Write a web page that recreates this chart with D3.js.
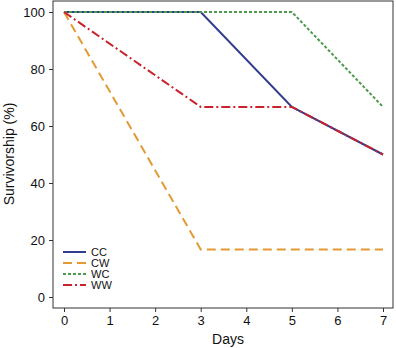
<!DOCTYPE html>
<html>
<head>
<meta charset="utf-8">
<script src="https://cdn.jsdelivr.net/npm/d3@7"></script>
<style>
  body { margin: 0; background: #fff; }
  svg text { font-family: "Liberation Sans", Arial, sans-serif; }
</style>
</head>
<body>
<script>
var days = [0, 3, 5, 7];
var seriesNames = ["CC", "CW", "WC", "WW"];
var ccValues = [100, 100, 66.7, 50];
var cwValues = [100, 16.7, 16.7, 16.7];
var wcValues = [100, 100, 100, 66.7];
var wwValues = [100, 66.7, 66.7, 50];
var xTicks = [0, 1, 2, 3, 4, 5, 6, 7];
var yTicks = [0, 20, 40, 60, 80, 100];

var colors = ["#323c8e", "#e39a35", "#4c9a4c", "#c8232c"];
var dashes = [null, "9,5", "3,2", "9,3,2,3"];

var box = {left: 53, top: 1, right: 393, bottom: 308};

var x = d3.scaleLinear().domain([0, 7]).range([64, 383]);
var y = d3.scaleLinear().domain([0, 100]).range([297, 12]);

var svg = d3.select("body").append("svg")
    .attr("width", 396)
    .attr("height", 348);

var series = [ccValues, cwValues, wcValues, wwValues].map(function(v, i) {
  return {name: seriesNames[i], points: days.map(function(d, j) { return [d, v[j]]; })};
});

var line = d3.line()
    .x(function(d) { return x(d[0]); })
    .y(function(d) { return y(d[1]); });

svg.selectAll(".series")
    .data(series)
  .enter().append("path")
    .attr("class", "series")
    .attr("d", function(d) { return line(d.points); })
    .attr("fill", "none")
    .attr("stroke", function(d, i) { return colors[i]; })
    .attr("stroke-width", 2)
    .attr("stroke-dasharray", function(d, i) { return dashes[i]; });

svg.append("rect")
    .attr("x", box.left)
    .attr("y", box.top)
    .attr("width", box.right - box.left)
    .attr("height", box.bottom - box.top)
    .attr("fill", "none")
    .attr("stroke", "#333")
    .attr("stroke-width", 1);

var xAxis = svg.append("g")
    .attr("transform", "translate(0," + box.bottom + ")")
    .call(d3.axisBottom(x).tickValues(xTicks).tickFormat(d3.format("d")).tickSize(4).tickPadding(4));
var yAxis = svg.append("g")
    .attr("transform", "translate(" + box.left + ",0)")
    .call(d3.axisLeft(y).tickValues(yTicks).tickFormat(d3.format("d")).tickSize(4).tickPadding(4));

[xAxis, yAxis].forEach(function(a) {
  a.select(".domain").remove();
  a.selectAll("line").attr("stroke", "#333");
  a.selectAll("text").style("font-size", "13px").attr("fill", "#111")
    .style("font-family", "'Liberation Sans', Arial, sans-serif");
});

svg.append("text")
    .attr("x", 228)
    .attr("y", 344)
    .attr("text-anchor", "middle")
    .style("font-size", "14px")
    .attr("fill", "#111")
    .text("Days");

svg.append("text")
    .attr("transform", "translate(14," + 154 + ") rotate(-90)")
    .attr("text-anchor", "middle")
    .style("font-size", "14px")
    .attr("fill", "#111")
    .text("Survivorship (%)");

var legend = svg.selectAll(".legend")
    .data(seriesNames)
  .enter().append("g")
    .attr("class", "legend")
    .attr("transform", function(d, i) { return "translate(63," + (252 + i * 11) + ")"; });

legend.append("line")
    .attr("x1", 0)
    .attr("x2", 23)
    .attr("stroke", function(d, i) { return colors[i]; })
    .attr("stroke-width", 2)
    .attr("stroke-dasharray", function(d, i) { return dashes[i]; });

legend.append("text")
    .attr("x", 28)
    .attr("dy", "0.35em")
    .style("font-size", "11px")
    .attr("fill", "#111")
    .text(function(d) { return d; });
</script>
</body>
</html>
